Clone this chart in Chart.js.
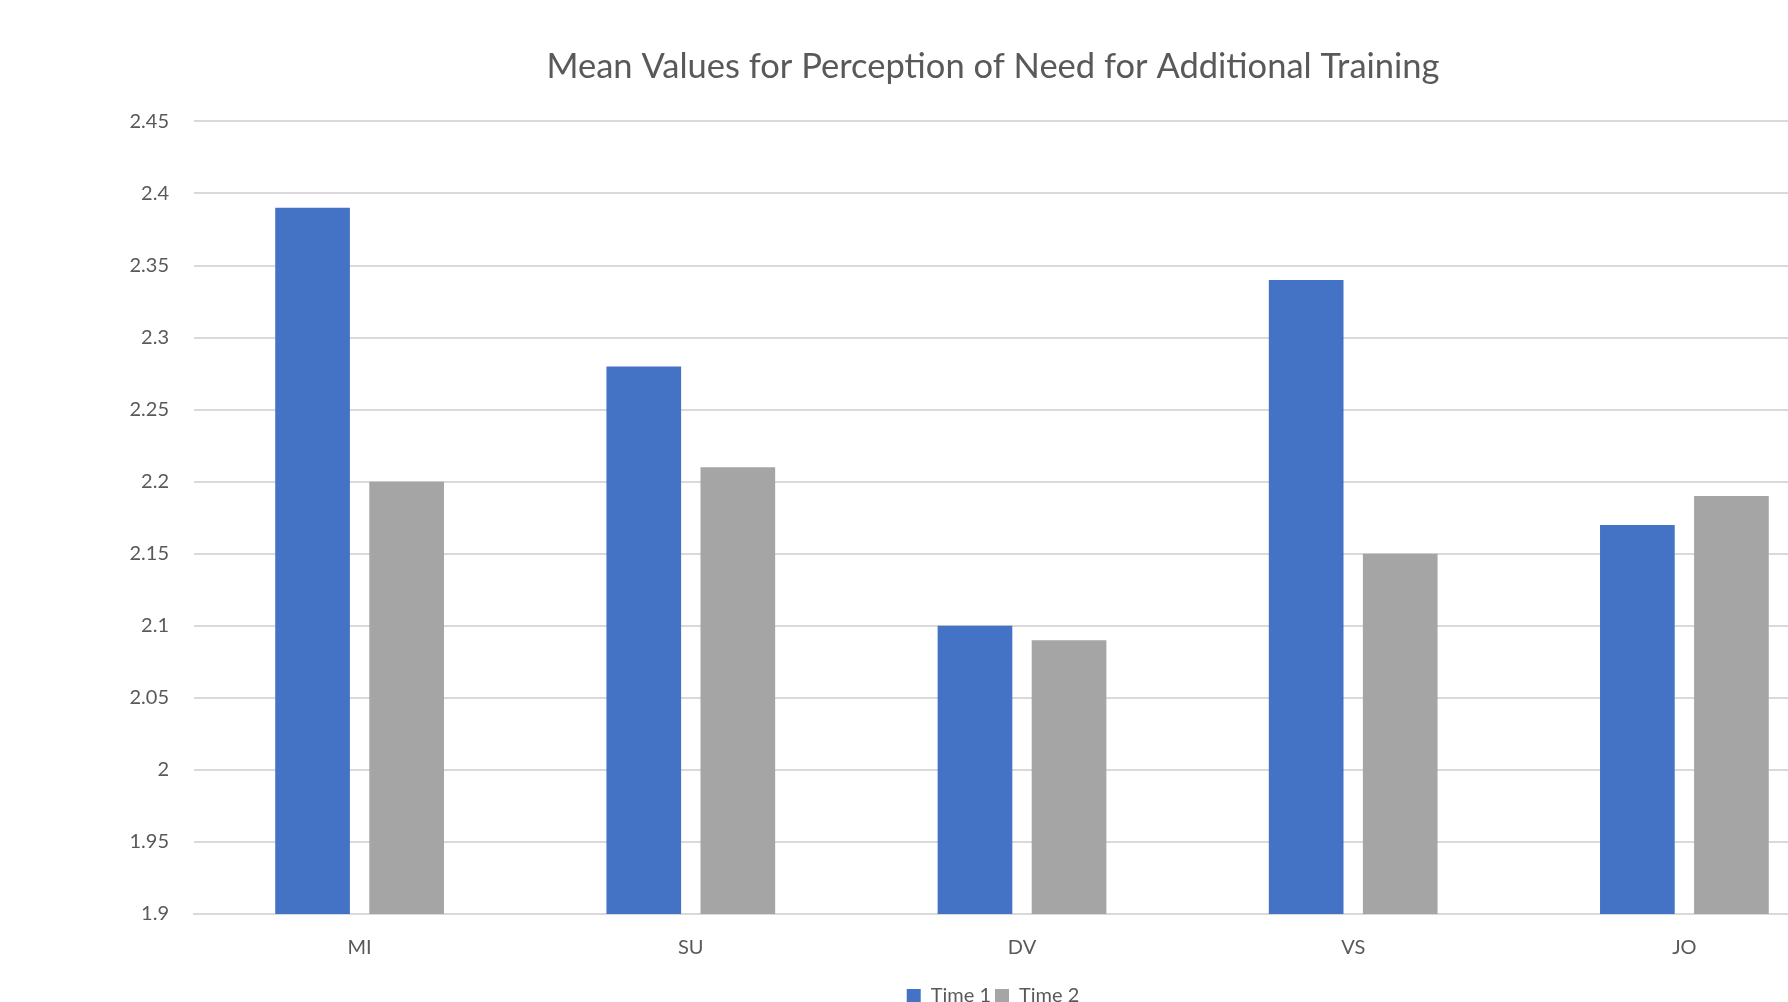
<!DOCTYPE html>
<html>
<head>
<meta charset="utf-8">
<script src="https://cdn.jsdelivr.net/npm/chart.js@4"></script>
<style>
  html, body { margin: 0; padding: 0; background: #fff; overflow: hidden; }
  #wrap { width: 1986px; height: 1016px; }
</style>
</head>
<body>
<div id="wrap"><canvas id="barChart" width="1986" height="1016"></canvas></div>
<script>
// chart data
var categories = ['MI', 'SU', 'DV', 'VS', 'JO'];
var time1 = [2.39, 2.28, 2.10, 2.34, 2.17];
var time2 = [2.20, 2.21, 2.09, 2.15, 2.19];
var yTicks = [1.9, 1.95, 2, 2.05, 2.1, 2.15, 2.2, 2.25, 2.3, 2.35, 2.4, 2.45];

var textColor = '#595959';
var gridColor = '#d9d9d9';
var fontFamily = 'Lato, "Open Sans", sans-serif';

// the y axis box is kept narrow so the title stays centred; widen only its label clip
var yLabelRoom = {
    id: 'yLabelRoom',
    beforeDraw: function (chart) {
        chart.scales.y.left = 60;
    }
};

var ctx = document.getElementById('barChart').getContext('2d');
var barChart = new Chart(ctx, {
    type: 'bar',
    data: {
        labels: categories,
        datasets: [{
            label: 'Time 1',
            data: time1,
            backgroundColor: '#4472C4',
            borderWidth: 0,
        }, {
            label: 'Time 2',
            data: time2,
            backgroundColor: '#A5A5A5',
            borderWidth: 0,
        }]
    },
    plugins: [yLabelRoom],
    options: {
        responsive: false,
        animation: false,
        devicePixelRatio: 1,
        layout: {
            padding: { left: 136, right: 136, top: 0, bottom: 0 }
        },
        datasets: {
            bar: {
                barPercentage: 0.794,
                categoryPercentage: 0.568
            }
        },
        plugins: {
            title: {
                display: true,
                text: 'Mean Values for Perception of Need for Additional Training',
                color: textColor,
                font: { family: fontFamily, size: 34.5, weight: 'normal' },
                padding: { top: 46, bottom: 34 }
            },
            legend: {
                position: 'bottom',
                labels: {
                    color: textColor,
                    font: { family: fontFamily, size: 20 },
                    boxWidth: 14,
                    boxHeight: 14,
                    padding: 4
                }
            },
            tooltip: { enabled: false }
        },
        scales: {
            x: {
                grid: { display: false, drawTicks: false },
                border: { display: true, color: gridColor, width: 2 },
                ticks: {
                    color: textColor,
                    font: { family: fontFamily, size: 20 },
                    padding: 22
                }
            },
            y: {
                min: 1.9,
                max: 2.45,
                afterBuildTicks: function (axis) {
                    axis.ticks = yTicks.map(function (v) { return { value: v }; });
                },
                afterFit: function (axis) {
                    axis.width = 58;
                },
                grid: { color: gridColor, lineWidth: 2, drawTicks: false },
                border: { display: false },
                ticks: {
                    color: textColor,
                    font: { family: fontFamily, size: 20 },
                    padding: 25,
                    callback: function (value) {
                        return Number(value.toFixed(2)).toString();
                    }
                }
            }
        }
    }
});
</script>
</body>
</html>
